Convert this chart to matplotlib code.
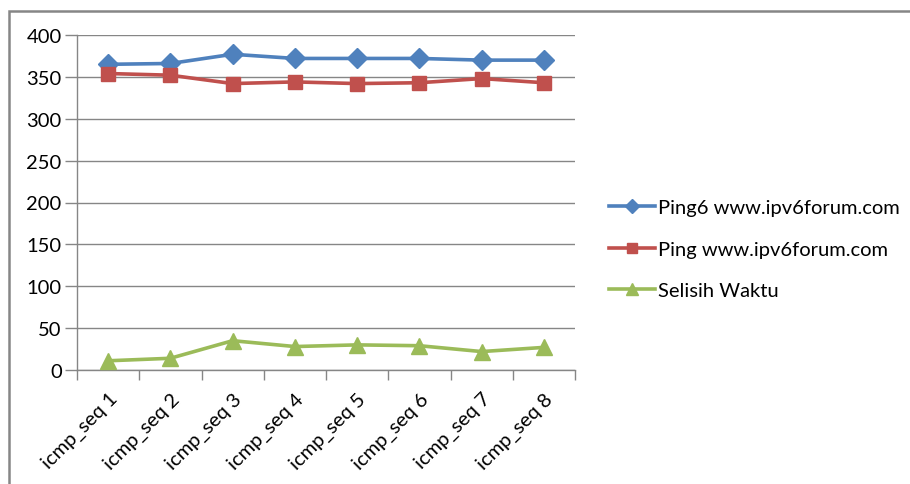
import matplotlib.pyplot as plt
from matplotlib.patches import Rectangle

# ping round-trip times per icmp sequence (ms)
categories = ['icmp_seq 1', 'icmp_seq 2', 'icmp_seq 3', 'icmp_seq 4',
              'icmp_seq 5', 'icmp_seq 6', 'icmp_seq 7', 'icmp_seq 8']
ping6 = [365, 366, 377, 372, 372, 372, 370, 370]
ping4 = [354, 352, 342, 344, 342, 343, 348, 343]
selisih = [11, 14, 35, 28, 30, 29, 22, 27]
y_ticks = [0, 50, 100, 150, 200, 250, 300, 350, 400]

plt.rcParams['font.family'] = ['Lato', 'DejaVu Sans']
grid_color = '#868686'

fig = plt.figure(figsize=(9.1, 4.85), dpi=100)
ax = fig.add_axes([77 / 910, 1 - 371 / 485, (575 - 77) / 910, (371 - 36) / 485])

x = list(range(len(categories)))
ax.plot(x, ping6, color='#4F81BD', lw=2.6, marker='D', ms=10,
        label='Ping6 www.ipv6forum.com', zorder=3)
ax.plot(x, ping4, color='#C0504D', lw=2.6, marker='s', ms=10,
        label='Ping www.ipv6forum.com', zorder=3)
ax.plot(x, selisih, color='#9BBB59', lw=2.6, marker='^', ms=11,
        label='Selisih Waktu', zorder=3)

ax.set_xlim(-0.5, len(categories) - 0.5)
ax.set_ylim(0, 400)
ax.set_yticks(y_ticks)
ax.set_xticks([i - 0.5 for i in range(len(categories) + 1)], minor=False)
ax.set_xticklabels([])
ax.set_xticks(x, minor=True)
ax.set_xticklabels(categories, minor=True, rotation=45, ha='right', va='top',
                   rotation_mode='anchor', fontsize=14.5)
ax.tick_params(axis='x', which='minor', length=0, pad=14)
ax.tick_params(axis='x', which='major', length=7, color=grid_color, width=1)
ax.tick_params(axis='y', length=9, color=grid_color, width=1, labelsize=14.5, pad=2)

ax.grid(axis='y', color=grid_color, lw=1)
ax.set_axisbelow(True)
for side in ['top', 'right']:
    ax.spines[side].set_visible(False)
for side in ['left', 'bottom']:
    ax.spines[side].set_color(grid_color)
    ax.spines[side].set_linewidth(1)

fig.legend(loc='upper left', bbox_to_anchor=(609 / 910, 1 - 200 / 485),
           frameon=False, fontsize=14.5, handlelength=2.3, labelspacing=1.22,
           handletextpad=0.15, markerscale=0.75, borderpad=0, borderaxespad=0)

# outer chart border
fig.patches.append(Rectangle((9 / 910, -0.1), 1.0, 1 - 12 / 485 + 0.1,
                             transform=fig.transFigure, fill=False,
                             edgecolor=grid_color, lw=1.8))

fig.savefig('out.png', dpi=100)
